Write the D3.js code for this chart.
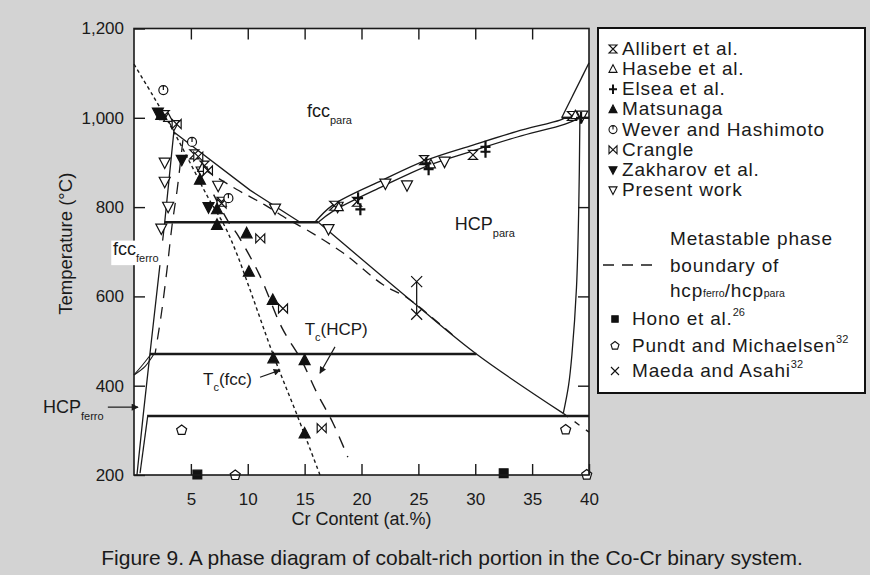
<!DOCTYPE html>
<html><head><meta charset="utf-8">
<script src="https://cdn.jsdelivr.net/npm/d3@7"></script>
<style>body{margin:0;background:#d3d3d3}svg{display:block}</style>
</head><body><svg id="c" width="870" height="575"></svg>
<script>
// ---------- tick values ----------
const xTicks = [5, 10, 15, 20, 25, 30, 35, 40];
const yTicks = [200, 400, 600, 800, 1000, 1200];

// ---------- data series: [Cr at.%, T °C] ----------
const allibert = [[2.7,1006],[5.3,918],[6.2,893],[7.7,812],[17.6,803],[19.6,812],[25.5,905],[29.8,917],[38.5,1004]];
const hasebe = [[3.0,1000],[6.0,888],[18.0,800],[26.1,896],[38.8,1006]];
const elsea = [[19.7,820],[19.9,795],[25.7,898],[25.9,885],[30.9,935],[30.9,924],[39.3,1000]];
const matsunaga = [[2.4,1006],[5.8,861],[7.3,795],[7.3,760],[9.9,741],[10.1,655],[12.2,592],[12.25,461],[15.0,457],[15.0,293]];
const wever = [[2.58,1062],[5.1,946],[8.3,820]];
const crangle = [[3.75,986],[5.65,913],[6.5,882],[7.7,808],[11.1,730],[13.1,573],[16.5,305]];
const zakharov = [[2.1,1012],[4.2,906],[6.55,800]];
const presentWork = [[3.5,984],[2.7,900],[2.7,857],[3.0,801],[2.4,752],[5.95,880],[7.4,848],[12.4,797],[17.1,751],[17.9,801],[22.1,853],[24.0,849],[27.3,902],[39.4,1005]];
const hono = [[5.57,201],[32.5,204]];
const pundt = [[4.19,301],[8.9,200],[37.95,302],[39.8,201]];
const maeda = [[24.85,633],[24.85,560]];

// ---------- phase boundaries ----------
const fccFerroBoundary = [[3.5,968],[2.7,766],[1.4,471],[0.8,332],[0.26,200]];
const lowerLeftBoundary = [[1.2,331],[0.53,204]];
const upperDiagonal = [[3.5,968],[10.2,838],[14.6,766]];
const lowerDiagonal = [[16.2,766],[24.85,580],[30.1,471],[37.74,338]];
const lowerDiagonalExt = [[37.74,338],[40,296]];
const fccHcpUpper = [[15.9,766],[17.5,805],[21.9,861],[25.7,905],[29.8,939],[33.6,969],[37.45,995],[37.9,1000]];
const fccHcpLower = [[16.2,766],[17.5,791],[21.9,847],[25.75,892],[29.8,926],[33.7,957],[37.9,986],[39.2,1000]];
const sigmaBoundary = [[37.6,1000],[40,1123]];
const hcpBoundary = [[39.2,1000],[39.1,800],[38.9,620],[38.5,470],[38.2,400],[37.74,338]];
const coTransition1 = [[1.5,471],[0.8,448],[0,424]];
const coTransition2 = [[1.75,471],[1.0,444],[0,424]];
const iso1000 = [[37.6,1000],[40,1000]];
const iso765 = [[2.7,766],[16.2,766]];
const iso470 = [[1.4,471],[30.1,471]];
const iso330 = [[1.15,332],[40,332]];
const tcFcc = [[0,1120],[1.7,1048],[3.4,973],[5.0,896],[6.5,822],[8,756],[9,698],[10.1,622],[12.3,465],[14.4,330],[16.35,200]];
const tcHcp = [[7.0,828],[8.3,767],[9.0,742],[11,650],[13,530],[14.7,458],[16.1,383],[17.5,316],[18.8,240]];
const leftMetastable = [[4.3,950],[3.8,840],[3.35,760],[2.9,660],[2.4,560],[1.85,471]];
const hcpMetastable = [[6.2,884],[9.0,840],[11.5,805],[13.7,770],[15.2,749],[18.4,697],[21.9,626],[24,597],[28,514]];

// ---------- legend ----------
const legendNames = ["Allibert et al.","Hasebe et al.","Elsea et al.","Matsunaga","Wever and Hashimoto","Crangle","Zakharov et al.","Present work"];
const legendSyms = ["hourglass","triUpOpen","plus","triUpFill","clock","bowtie","triDownFill","triDownOpen"];

const svg = d3.select("#c");
const FONT = "'Liberation Sans', Arial, Helvetica, sans-serif";
const LFS = 19;
const LLS = 0.8;
svg.append("rect").attr("width",870).attr("height",575).attr("fill","#d3d3d3");

const x = d3.scaleLinear().domain([0,40]).range([134,589]);
const y = d3.scaleLinear().domain([200,1200]).range([475,28.5]);

// plot area
svg.append("rect").attr("x",x(0)).attr("y",y(1200)).attr("width",x(40)-x(0)).attr("height",y(200)-y(1200)).attr("fill","#fff");

const g = svg.append("g");
const line = d3.line().x(d=>x(d[0])).y(d=>y(d[1]));
const curve = d3.line().x(d=>x(d[0])).y(d=>y(d[1])).curve(d3.curveCatmullRom);
function draw(data, w, dash, gen){
  g.append("path").attr("d",(gen||line)(data)).attr("fill","none").attr("stroke","#1a1a1a")
   .attr("stroke-width",w).attr("stroke-dasharray",dash||null);
}
draw(fccFerroBoundary,1.3);
draw(lowerLeftBoundary,1.3);
draw(upperDiagonal,1.3);
draw(lowerDiagonal,1.3,null,curve);
draw(lowerDiagonalExt,1.3,"6,8");
draw(fccHcpUpper,1.3,null,curve);
draw(fccHcpLower,1.3,null,curve);
draw(sigmaBoundary,1.3);
draw(hcpBoundary,1.3,null,curve);
draw(coTransition1,1.1,null,curve);
draw(coTransition2,1.1,null,curve);
draw(iso1000,2.4);
draw(iso765,2.6);
draw(iso470,2.6);
draw(iso330,2.4);
draw(tcFcc,1.4,"3.5,3",curve);
draw(tcHcp,1.4,"12,9",curve);
draw(leftMetastable,1.3,"12,9",curve);
draw(hcpMetastable,1.3,"10,7",curve);
draw(maeda,1.3);

// axes (inward ticks)
function styleAxis(sel){
  sel.select(".domain").remove();
  sel.selectAll("line").attr("stroke","#1a1a1a").attr("stroke-width",1.4);
  sel.selectAll("text").attr("font-family",FONT).attr("font-size",17).attr("fill","#1a1a1a");
}
svg.append("g").attr("transform",`translate(0,${y(200)})`)
  .call(d3.axisBottom(x).tickValues(xTicks).tickSize(-11).tickPadding(18).tickFormat(d3.format("d"))).call(styleAxis);
svg.append("g").attr("transform",`translate(0,${y(1200)})`)
  .call(d3.axisTop(x).tickValues(xTicks.slice(0,-1)).tickSize(-11).tickFormat("")).call(styleAxis);
svg.append("g").attr("transform",`translate(${x(0)},0)`)
  .call(d3.axisLeft(y).tickValues(yTicks).tickSize(-11).tickPadding(10).tickFormat(d3.format(","))).call(styleAxis);
svg.append("g").attr("transform",`translate(${x(40)},0)`)
  .call(d3.axisRight(y).tickValues(yTicks.slice(1,-1)).tickSize(-11).tickFormat("")).call(styleAxis);
svg.append("rect").attr("x",x(0)).attr("y",y(1200)).attr("width",x(40)-x(0)).attr("height",y(200)-y(1200))
  .attr("fill","none").attr("stroke","#1a1a1a").attr("stroke-width",1.6);

// ---------- symbols ----------
function symPath(type, s){
  switch(type){
    case "hourglass": return `M${-s},${-s}H${s}L${-s},${s}H${s}Z`;
    case "bowtie": return `M${-s},${-s}V${s}L${s},${-s}V${s}Z`;
    case "triUpOpen": case "triUpFill": return `M0,${-s*1.1}L${s},${s*0.8}H${-s}Z`;
    case "triDownOpen": case "triDownFill": return `M0,${s*1.1}L${s},${-s*0.8}H${-s}Z`;
    case "plus": return `M${-s},0H${s}M0,${-s*1.2}V${s*1.2}`;
    case "cross": return `M${-s},${-s}L${s},${s}M${s},${-s}L${-s},${s}`;
    case "square": return `M${-s*0.8},${-s*0.8}H${s*0.8}V${s*0.8}H${-s*0.8}Z`;
    case "pentagon": return `M0,${-s}L${s},${-s*0.25}L${s*0.65},${s*0.9}H${-s*0.65}L${-s},${-s*0.25}Z`;
    case "clock": return `M${s},0A${s},${s} 0 1,1 ${-s},0A${s},${s} 0 1,1 ${s},0M0,0V${-s}`;
  }
}
const filled = {triUpFill:1,triDownFill:1,square:1};
function plotSym(data, type, s){
  g.selectAll(null).data(data).enter().append("path")
    .attr("transform",d=>`translate(${x(d[0])},${y(d[1])})`)
    .attr("d",symPath(type,s))
    .attr("fill",filled[type]?"#111":(type==="plus"||type==="cross"?"none":"#fff"))
    .attr("stroke","#111").attr("stroke-width",type==="plus"?2.2:1.2);
}
plotSym(presentWork,"triDownOpen",5.5);
plotSym(allibert,"hourglass",4.5);
plotSym(hasebe,"triUpOpen",4.5);
plotSym(crangle,"bowtie",4.5);
plotSym(wever,"clock",4.5);
plotSym(matsunaga,"triUpFill",5.5);
plotSym(zakharov,"triDownFill",5.5);
plotSym(elsea,"plus",5);
plotSym(hono,"square",5.5);
plotSym(pundt,"pentagon",5);
plotSym(maeda,"cross",5.5);

// ---------- text annotations ----------
function label(cx, ty, main, sub, fs, sfs, sdy){
  const t = svg.append("text").attr("x",x(cx)).attr("y",y(ty)).attr("font-family",FONT).attr("font-size",fs).attr("fill","#1a1a1a");
  t.append("tspan").text(main);
  t.append("tspan").attr("font-size",sfs).attr("dy",sdy).text(sub);
  return t;
}
label(15.2,1002,"fcc","para",18,11,7);
label(28.2,749,"HCP","para",18,11,7);
// fcc ferro with white background
svg.append("rect").attr("x",x(-2.0)).attr("y",y(725)).attr("width",x(2.7)-x(-2.0)).attr("height",y(670)-y(725)).attr("fill","#fff");
label(-1.85,693,"fcc","ferro",18,11,7);
label(-8.0,339,"HCP","ferro",18,11,7);
function tcLabel(cx, ty, rest){
  const t = svg.append("text").attr("x",x(cx)).attr("y",y(ty)).attr("font-family",FONT).attr("font-size",17).attr("fill","#1a1a1a");
  t.append("tspan").text("T");
  t.append("tspan").attr("font-size",11).attr("dy",6).text("c");
  t.append("tspan").attr("dy",-6).text(rest);
}
tcLabel(15.0,513,"(HCP)");
tcLabel(6.07,401,"(fcc)");

// arrows
const defs = svg.append("defs");
defs.append("marker").attr("id","ah").attr("viewBox","0 0 10 10").attr("refX",9).attr("refY",5)
  .attr("markerWidth",9).attr("markerHeight",7).attr("orient","auto").attr("markerUnits","userSpaceOnUse")
  .append("path").attr("d","M0,0L10,5L0,10Z").attr("fill","#1a1a1a");
function arrow(a,b){
  svg.append("line").attr("x1",x(a[0])).attr("y1",y(a[1])).attr("x2",x(b[0])).attr("y2",y(b[1]))
    .attr("stroke","#1a1a1a").attr("stroke-width",1.2).attr("marker-end","url(#ah)");
}
arrow([17.67,487],[16.35,428]);
arrow([11.08,419],[12.84,435]);
arrow([-2.3,352],[0.35,352]);

// axis titles
svg.append("text").attr("x",x(20)).attr("y",525).attr("text-anchor","middle").attr("font-family",FONT).attr("font-size",18).attr("fill","#1a1a1a").text("Cr Content (at.%)");
svg.append("text").attr("transform",`translate(72,${(y(200)+y(1200))/2-8}) rotate(-90)`).attr("text-anchor","middle").attr("font-family",FONT).attr("font-size",18.5).attr("fill","#1a1a1a").text("Temperature (°C)");

// caption
svg.append("text").attr("x",452).attr("y",565).attr("text-anchor","middle").attr("font-family",FONT).attr("font-size",21).attr("fill","#1a1a1a")
  .text("Figure 9. A phase diagram of cobalt-rich portion in the Co-Cr binary system.");

// ---------- legend ----------
const lg = svg.append("g");
lg.append("rect").attr("x",598).attr("y",28).attr("width",267).attr("height",365).attr("fill","#fff").attr("stroke","#111").attr("stroke-width",2);
legendNames.forEach((n,i)=>{
  const by = 55 + i*20.15;
  lg.append("path").attr("transform",`translate(613,${by-6})`).attr("d",symPath(legendSyms[i],4))
    .attr("fill",filled[legendSyms[i]]?"#111":(legendSyms[i]==="plus"?"none":"#fff")).attr("stroke","#111").attr("stroke-width",legendSyms[i]==="plus"?2:1.1);
  lg.append("text").attr("x",622).attr("y",by).attr("font-family",FONT).attr("font-size",LFS).attr("letter-spacing",LLS).attr("fill","#1a1a1a").text(n);
});
lg.append("line").attr("x1",603).attr("x2",658).attr("y1",265).attr("y2",265).attr("stroke","#1a1a1a").attr("stroke-width",1.3).attr("stroke-dasharray","11,8");
[["Metastable phase",245],["boundary of",271.5]].forEach(([t,by])=>{
  lg.append("text").attr("x",670).attr("y",by).attr("font-family",FONT).attr("font-size",LFS).attr("letter-spacing",LLS).attr("fill","#1a1a1a").text(t);
});
const hc = lg.append("text").attr("x",670).attr("y",297).attr("font-family",FONT).attr("font-size",LFS).attr("letter-spacing",LLS).attr("fill","#1a1a1a");
hc.append("tspan").text("hcp"); hc.append("tspan").attr("font-size",10.5).attr("letter-spacing",0).text("ferro");
hc.append("tspan").text("/hcp"); hc.append("tspan").attr("font-size",10.5).attr("letter-spacing",0).text("para");
const extra = [["square","Hono et al.","26",325],["pentagon","Pundt and Michaelsen","32",351.5],["cross","Maeda and Asahi","32",377]];
extra.forEach(([s,n,sup,by])=>{
  lg.append("path").attr("transform",`translate(615,${by-6})`).attr("d",symPath(s,4))
    .attr("fill",s==="square"?"#111":"#fff").attr("stroke","#111").attr("stroke-width",1.1);
  const t = lg.append("text").attr("x",632).attr("y",by).attr("font-family",FONT).attr("font-size",LFS).attr("letter-spacing",LLS).attr("fill","#1a1a1a");
  t.append("tspan").text(n);
  t.append("tspan").attr("font-size",11).attr("letter-spacing",0).attr("dy",-9).text(sup);
});
</script></body></html>
